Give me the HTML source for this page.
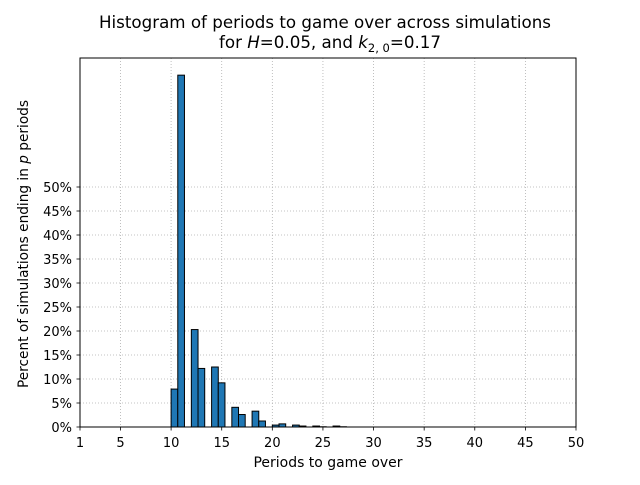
<!DOCTYPE html>
<html><head><meta charset="utf-8"><style>
body{margin:0;background:#fff}
svg text{font-family:"DejaVu Sans","Liberation Sans",sans-serif;fill:#000}
</style></head><body>
<svg id="chart" width="640" height="480" xmlns="http://www.w3.org/2000/svg">
<rect width="640" height="480" fill="#fff"/>
<text x="325" y="28" font-size="16.7" text-anchor="middle" textLength="452" lengthAdjust="spacingAndGlyphs">Histogram of periods to game over across simulations</text>
<text x="330" y="48" font-size="16.7" text-anchor="middle">for <tspan font-style="italic">H</tspan>=0.05, and <tspan font-style="italic">k</tspan><tspan font-size="11.5" dy="4">2, 0</tspan><tspan dy="-4">=0.17</tspan></text>
<g id="grid"></g>
<g id="bars"></g>
<rect x="80" y="58" width="496" height="369" fill="none" stroke="#000" stroke-width="1"/>
<g id="axes"></g>
<text x="328" y="467" font-size="14" text-anchor="middle" textLength="149" lengthAdjust="spacingAndGlyphs">Periods to game over</text>
<text transform="translate(28,244) rotate(-90)" font-size="14" text-anchor="middle" textLength="288" lengthAdjust="spacingAndGlyphs">Percent of simulations ending in <tspan font-style="italic">p</tspan> periods</text>
</svg>
<script>
const binStarts = [10, 10.66, 12, 12.66, 14, 14.66, 16, 16.66, 18, 18.66, 20, 20.66, 22, 22.66, 24, 24.66, 26, 26.66];
const percents = [7.9, 73.3, 20.3, 12.2, 12.5, 9.2, 4.1, 2.6, 3.3, 1.25, 0.4, 0.65, 0.4, 0.2, 0.2, 0.05, 0.2, 0.05];
const binWidth = 0.66;
const xTicks = [1, 5, 10, 15, 20, 25, 30, 35, 40, 45, 50];
const yTicks = [0, 5, 10, 15, 20, 25, 30, 35, 40, 45, 50];
const NS = "http://www.w3.org/2000/svg";
const xs = v => 80 + (v - 1) * 496 / 49;
const ys = v => 427 - v * 4.8;
const grid = document.getElementById('grid'), bars = document.getElementById('bars'), axes = document.getElementById('axes');
function mk(tag, attrs, parent){const e=document.createElementNS(NS,tag);for(const k in attrs)e.setAttribute(k,attrs[k]);parent.appendChild(e);return e;}
xTicks.forEach(t=>{
  const g=mk('line',{x1:xs(t),x2:xs(t),y1:58,y2:427,stroke:'#b0b0b0','stroke-width':0.8,'stroke-dasharray':'1,2'},grid);
  
  
  const tk=mk('line',{x1:xs(t),x2:xs(t),y1:427,y2:430.5,stroke:'#000','stroke-width':0.8},axes);
  
  
  const tx=mk('text',{x:xs(t),y:447,'font-size':13,'text-anchor':'middle'},axes);
  tx.textContent=t;
  
  
});
yTicks.forEach(t=>{
  const g=mk('line',{x1:80,x2:576,y1:ys(t),y2:ys(t),stroke:'#b0b0b0','stroke-width':0.8,'stroke-dasharray':'1,2'},grid);
  
  
  const tk=mk('line',{x1:76.5,x2:80,y1:ys(t),y2:ys(t),stroke:'#000','stroke-width':0.8},axes);
  
  
  const tx=mk('text',{x:72,y:ys(t)+5,'font-size':13,'text-anchor':'end'},axes);
  tx.textContent=t+'%';
  
  
});
binStarts.forEach((b,i)=>{
  const x0=xs(b), x1=xs(b+binWidth), y=ys(percents[i]);
  const r=mk('rect',{x:x0,y:y,width:x1-x0,height:427-y,fill:'#1f77b4',stroke:'#000','stroke-width':1},bars);
  
  
});
</script>
</body></html>
